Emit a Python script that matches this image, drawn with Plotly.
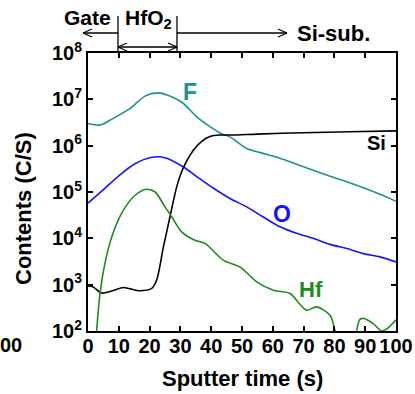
import plotly.graph_objects as go

# ---- data (log10 of counts per second) ----
f_time = [0, 4, 8.2, 13.6, 18.5, 22.8, 27.7, 31, 35.3, 39.6, 43.5, 46.1, 51.5, 56, 62.3, 67.7, 73.1, 78.6, 84, 89.4, 94.8, 100]
f_log = [6.48, 6.445, 6.59, 6.80, 7.07, 7.14, 7.04, 6.91, 6.62, 6.41, 6.25, 6.19, 5.94, 5.85, 5.73, 5.60, 5.47, 5.34, 5.22, 5.09, 4.95, 4.80]

o_time = [0, 5, 10, 15, 20.7, 25, 31, 36, 41, 46.1, 51.5, 56.9, 62.3, 67.7, 73.1, 78.6, 84, 89.4, 94.8, 100]
o_log = [4.76, 5.05, 5.35, 5.60, 5.75, 5.74, 5.54, 5.30, 5.07, 4.86, 4.68, 4.46, 4.25, 4.11, 4.00, 3.87, 3.78, 3.67, 3.60, 3.49]

hf_time = [2.8, 3.9, 5.5, 7.7, 10.9, 15.3, 19, 21.8, 25, 27.2, 30.4, 34.7, 38, 43.9, 49.4, 54.8, 60.2, 65.6, 68.5, 71, 74.3, 78.6, 80.2, 81.5,
           None, 86.5, 88.3, 89.6, 92.6, 95.4, 97.5, 100]
hf_log = [2.0, 2.81, 3.46, 4.03, 4.54, 4.93, 5.06, 5.0, 4.68, 4.46, 4.14, 3.96, 3.89, 3.53, 3.38, 3.06, 2.88, 2.81, 2.60, 2.45, 2.52, 2.34, 2.0, 1.6,
          None, 1.7, 2.25, 2.27, 2.16, 2.0, 2.07, 2.24]

si_time = [0, 1.7, 4.4, 8, 11.5, 16.4, 20.7, 22.3, 24.5, 26.6, 28.8, 30.6, 34.2, 37, 39.6, 42.9, 46, 55, 70, 85, 100]
si_log = [2.97, 2.95, 2.82, 2.87, 2.94, 2.87, 2.92, 3.10, 3.82, 4.46, 5.11, 5.47, 5.90, 6.10, 6.20, 6.23, 6.23, 6.25, 6.28, 6.30, 6.32]

x_ticks = [0, 10, 20, 30, 40, 50, 60, 70, 80, 90, 100]
y_exps = [2, 3, 4, 5, 6, 7, 8]

FONT = "Liberation Sans, Arial, sans-serif"
C_F = "#1a9490"
C_O = "#1414ff"
C_HF = "#1e8a1e"
C_SI = "#000000"

def tolin(vals):
    return [None if v is None else 10 ** v for v in vals]

fig = go.Figure()
for t, v, c in [(f_time, f_log, C_F), (o_time, o_log, C_O), (si_time, si_log, C_SI), (hf_time, hf_log, C_HF)]:
    fig.add_trace(go.Scatter(x=t, y=tolin(v), mode="lines", connectgaps=False,
                             line=dict(color=c, width=1.6, shape="spline", smoothing=0.8),
                             showlegend=False, hoverinfo="skip"))

# plot area in pixels
L, R, T, B = 88, 396, 53, 331
W, H = 415, 394

def px(x):
    return (x - L) / (R - L)

def py(y):
    return (B - y) / (B - T)

shapes = []

def seg(x0, y0, x1, y1):
    shapes.append(dict(type="line", xref="paper", yref="paper", x0=px(x0), y0=py(y0), x1=px(x1), y1=py(y1),
                       line=dict(color="black", width=1.3)))

def head(x, y, d):
    seg(x, y, x + d * 9, y - 4)
    seg(x, y, x + d * 9, y + 4)

# bracket lines and arrows
seg(118, 16, 118, 51)
seg(177, 16, 177, 51)
seg(118, 33, 83, 33); head(83, 33, 1)
seg(118, 47, 177, 47); head(118, 47, 1); head(177, 47, -1)
seg(177, 33, 287, 33); head(287, 33, -1)

anns = []

def txt(x, y, s, size, color="black", xanchor="center"):
    anns.append(dict(xref="paper", yref="paper", x=px(x), y=py(y), text="<b>" + s + "</b>", showarrow=False,
                     font=dict(family=FONT, size=size, color=color), xanchor=xanchor, yanchor="middle"))

txt(87, 18, "Gate", 21)
txt(148, 19, "HfO<sub>2</sub>", 21)
txt(333, 33, "Si-sub.", 22)
txt(190, 92, "F", 23, C_F)
txt(282, 214, "O", 23, C_O)
txt(311, 289, "Hf", 22, C_HF)
txt(376, 143, "Si", 20, C_SI)
txt(24, 345, "00", 20, xanchor="right")

anns.append(dict(xref="paper", yref="paper", x=px(23), y=py(209), text="<b>Contents (C/S)</b>", showarrow=False,
                 textangle=-90, font=dict(family=FONT, size=22, color="black"), xanchor="center", yanchor="middle"))
anns.append(dict(xref="paper", yref="paper", x=px(242), y=py(378), text="<b>Sputter time (s)</b>", showarrow=False,
                 font=dict(family=FONT, size=22, color="black"), xanchor="center", yanchor="middle"))

fig.update_layout(
    width=W, height=H, margin=dict(l=L, r=W - R, t=T, b=H - B, autoexpand=False),
    paper_bgcolor="white", plot_bgcolor="white",
    shapes=shapes, annotations=anns,
    font=dict(family=FONT, color="black"),
)
fig.update_xaxes(range=[0, 100], tickvals=x_ticks, ticktext=["<b>%d</b>" % v for v in x_ticks],
                 tickangle=0, ticks="inside", ticklen=5, tickwidth=1.5, tickcolor="black", automargin=False,
                 ticklabelstandoff=-4,
                 showline=True, linecolor="black", linewidth=2, mirror="ticks",
                 showgrid=False, zeroline=False, tickfont=dict(family=FONT, size=20, color="black"))
fig.update_yaxes(type="log", range=[2, 8], tickvals=[10 ** e for e in y_exps],
                 ticktext=["<b>10<sup>%d</sup></b>" % e for e in y_exps], automargin=False,
                 ticks="inside", ticklen=5, tickwidth=1.5, tickcolor="black",
                 showline=True, linecolor="black", linewidth=2, mirror="ticks",
                 showgrid=False, zeroline=False, tickfont=dict(family=FONT, size=20, color="black"))

fig.write_html("out.html")
